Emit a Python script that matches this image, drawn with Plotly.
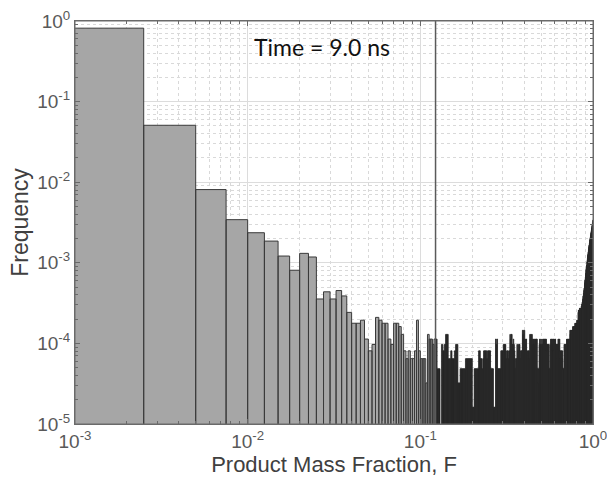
import numpy as np
import plotly.graph_objects as go

# ---------------- data ----------------
BIN_WIDTH = 0.0025          # histogram bin width in F
THRESHOLD = 0.1225          # vertical marker position

# counts for bins 1..49 (F from 0 to 0.1225) - drawn light gray
gray_counts = [
    50400, 3145, 501, 212, 146, 115, 75, 50, 81, 73,
    22, 27, 22, 28, 24, 15, 11, 11, 12, 7,
    5, 6, 13, 12, 11, 11, 7, 6, 11, 11,
    10, 8, 5, 4, 5, 4, 4, 5, 12, 5,
    4, 4, 4, 2, 8, 7, 7, 6, 7,
]

# counts for bins 50..400 (F from 0.1225 to 1) - drawn dark
dark_counts = [
    7, 3, 3, 0, 6, 5, 6, 8, 8, 4, 4, 5, 4, 4, 5, 6, 6, 2, 2, 3,
    3, 3, 3, 3, 4, 4, 4, 4, 4, 4, 4, 1, 1, 3, 3, 3, 3, 3, 5, 5,
    4, 4, 3, 4, 5, 5, 5, 5, 4, 5, 5, 5, 5, 3, 3, 3, 3, 1, 1, 1,
    7, 6, 7, 3, 3, 3, 3, 3, 5, 5, 5, 5, 6, 6, 6, 6, 5, 4, 5, 5,
    4, 5, 5, 8, 7, 8, 8, 6, 6, 7, 6, 5,
    4, 3, 4, 4, 6, 5, 6, 5, 6, 6, 5, 4, 5, 5, 5, 9, 8, 9, 7, 9,
    7, 6, 7, 7, 5, 5, 4, 5, 5, 5, 4, 8, 7, 8, 8, 7, 8, 6, 7, 7,
    6, 7, 6, 7, 7, 6, 7, 7, 7, 3, 3, 2, 3, 3, 6, 7, 6, 6, 7, 6,
    5, 7, 6, 6, 7, 7, 6, 7, 7, 6, 7, 7, 5, 7, 6, 5, 6, 6, 6, 5,
    6, 6, 3, 3, 2, 3, 7, 6, 7, 7, 6, 7, 5, 7, 6, 7, 7, 5, 7, 6,
    7, 7, 6, 6, 5, 6, 6, 4, 6, 6, 7, 7, 6, 7, 6, 7, 5, 4, 5, 5,
    5, 4, 5, 5, 5, 4, 3, 3, 2, 3, 3, 6, 5, 6, 6, 5, 6, 6, 5, 6,
    7, 6, 7, 7, 6, 7, 7, 6, 7, 7, 6, 7, 7,
    9, 8, 9, 9, 8, 9, 9, 8, 9, 9, 9,
    10, 9, 10, 9, 10, 10, 9, 10, 10,
    11, 10, 11, 11, 11, 10, 11, 11, 12, 11, 11, 12, 11, 12,
    15, 16, 16, 15, 16, 16, 17, 16, 16, 17, 16,
    16, 17, 17, 18, 17, 19, 18, 20, 19,
    21, 22, 24, 23, 26, 25, 28, 30, 29, 33,
    35, 38, 37, 41, 44, 46, 50,
    52, 55, 58, 57, 63, 66, 70, 74,
    77, 80, 84, 88, 92, 96, 101,
    103, 108, 112, 118, 121, 126, 130, 135,
    139, 145, 150, 156, 161,
    167, 174, 180, 188, 195, 203, 210,
]

x_tick_vals = [1e-3, 1e-2, 1e-1, 1e0]
x_tick_text = ["10<sup>-3</sup>", "10<sup>-2</sup>", "10<sup>-1</sup>", "10<sup>0</sup>"]
y_tick_vals = [1e-5, 1e-4, 1e-3, 1e-2, 1e-1, 1e0]
y_tick_text = ["10<sup>-5</sup>", "10<sup>-4</sup>", "10<sup>-3</sup>",
               "10<sup>-2</sup>", "10<sup>-1</sup>", "10<sup>0</sup>"]

annotation_text = "Time = 9.0 ns"

# ---------------- derived ----------------
counts = np.array(gray_counts + dark_counts, dtype=float)
freq = counts / counts.sum()
edges = np.arange(len(counts) + 1) * BIN_WIDTH
n_gray = len(gray_counts)

FLOOR = 1e-7       # bars start below the visible range
LEFT_CLAMP = 1e-4  # bin starting at 0 cannot be shown on log axis


def rect_paths(indices):
    xs, ys = [], []
    for i in indices:
        if freq[i] <= 0:
            continue
        x0 = max(edges[i], LEFT_CLAMP)
        x1 = edges[i + 1]
        top = freq[i]
        xs += [x0, x0, x1, x1, x0, None]
        ys += [FLOOR, top, top, FLOOR, FLOOR, None]
    return xs, ys


gx, gy = rect_paths(range(n_gray))
dx, dy = rect_paths(range(n_gray, len(counts)))

fig = go.Figure()
fig.add_trace(go.Scatter(
    x=gx, y=gy, mode="lines", fill="toself",
    fillcolor="#a6a6a6",
    line=dict(color="#3a3a3a", width=1, simplify=False),
    hoverinfo="skip", showlegend=False,
))
fig.add_trace(go.Scatter(
    x=dx, y=dy, mode="lines", fill="toself",
    fillcolor="#222222",
    line=dict(color="#2a2a2a", width=0.8, simplify=False),
    hoverinfo="skip", showlegend=False,
))
fig.add_trace(go.Scatter(
    x=[THRESHOLD, THRESHOLD], y=[FLOOR, 10], mode="lines",
    line=dict(color="#5a5a5a", width=1.5),
    hoverinfo="skip", showlegend=False,
))

minor_x = [m * 10.0 ** e for e in range(-3, 0) for m in range(2, 10)]
minor_y = [m * 10.0 ** e for e in range(-5, 0) for m in range(2, 10)]

FONT = "Liberation Sans, Arial, sans-serif"

axis_common = dict(
    type="log",
    automargin=False,
    ticklabeloverflow="allow",
    showline=True, linecolor="#6a6a6a", linewidth=1, mirror="ticks",
    ticks="inside", ticklen=5, tickcolor="#6a6a6a", tickwidth=1,
    showgrid=True, gridcolor="#dcdcdc", gridwidth=1,
    zeroline=False,
    tickfont=dict(family=FONT, size=19, color="#595959"),
    layer="above traces",
)

fig.update_xaxes(
    **axis_common,
    range=[-3, 0],
    tickmode="array", tickvals=x_tick_vals, ticktext=x_tick_text,
    minor=dict(tickmode="array", tickvals=minor_x, ticks="inside", ticklen=3,
               tickcolor="#6a6a6a", showgrid=True, gridcolor="#d9d9d9",
               griddash="dot", gridwidth=1),
    title=dict(text="Product Mass Fraction, F",
               font=dict(family=FONT, size=22, color="#404040"),
               standoff=0),
)
fig.update_yaxes(
    **axis_common,
    range=[-5, 0],
    tickmode="array", tickvals=y_tick_vals, ticktext=y_tick_text,
    minor=dict(tickmode="array", tickvals=minor_y, ticks="inside", ticklen=3,
               tickcolor="#6a6a6a", showgrid=True, gridcolor="#d9d9d9",
               griddash="dot", gridwidth=1),
    title=dict(text="Frequency",
               font=dict(family=FONT, size=23, color="#404040"),
               standoff=2),
)

# plot-area frame (keeps the right/top border visible)
fig.add_shape(type="rect", xref="paper", yref="paper", x0=0, y0=0, x1=1, y1=1,
              line=dict(color="#6a6a6a", width=1), layer="above")

fig.add_annotation(
    text=annotation_text, xref="paper", yref="paper",
    x=0.477, y=0.935, xanchor="center", yanchor="middle",
    showarrow=False,
    font=dict(family="Lato, Open Sans, sans-serif", size=23, color="#111111"),
)

fig.update_layout(
    width=607, height=482,
    margin=dict(l=75, r=14, t=21, b=58),
    plot_bgcolor="white", paper_bgcolor="white",
    showlegend=False,
)

fig.write_html("out.html")
